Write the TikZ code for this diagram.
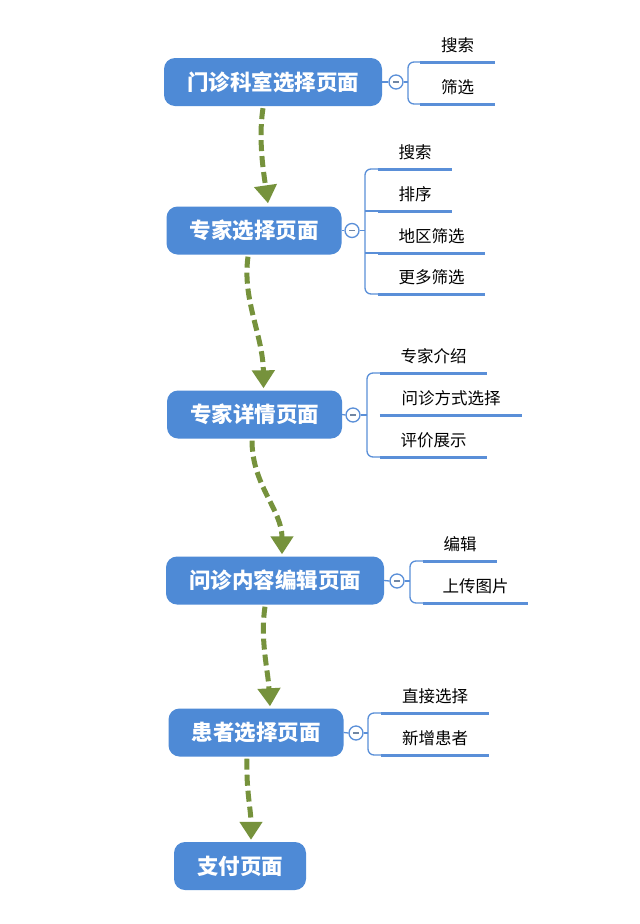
\documentclass[tikz,border=0pt]{standalone}
\usepackage{fontspec}
\setmainfont{Noto Sans CJK SC}
\usetikzlibrary{arrows.meta}
\definecolor{boxblue}{HTML}{4E8AD6}
\definecolor{lineblue}{HTML}{5A8FD8}
\definecolor{arrgreen}{HTML}{76923C}
\tikzset{
 page/.style={fill=boxblue, rounded corners=11pt, text=white, font=\bfseries\fontsize{21.5}{24}\selectfont, minimum height=48pt, inner xsep=23pt, inner ysep=0pt},
 fold/.style={circle, draw=lineblue, fill=white, line width=1.3pt, minimum size=14pt, inner sep=0pt,
   path picture={\draw[gray!60!lineblue, line width=1.4pt] ([xshift=-3pt]path picture bounding box.center) -- ([xshift=3pt]path picture bounding box.center);}},
 item/.style={font=\fontsize{16.5}{19}\selectfont, minimum height=33pt, inner sep=0pt, anchor=south},
 uline/.style={draw=lineblue, line width=3pt},
 brk/.style={draw=lineblue, line width=1.3pt, rounded corners=6pt},
 flow/.style={draw=arrgreen, line width=5pt, dash pattern=on 11pt off 5pt, -{Triangle[length=18pt,width=22pt]}},
}
\begin{document}
\begin{tikzpicture}[x=1pt,y=-1pt]
\useasboundingbox[fill=white] (0,0) rectangle (640,924);

% main pages
\node[page] (p1) at (273,82) {门诊科室选择页面};
\node[page] (p2) at (254,230.5) {专家选择页面};
\node[page] (p3) at (254.5,414.5) {专家详情页面};
\node[page] (p4) at (275,580.5) {问诊内容编辑页面};
\node[page] (p5) at (256,732.5) {患者选择页面};
\node[page] (p6) at (240,866) {支付页面};

% fold circles
\node[fold] (f1) at (396,82) {};
\node[fold] (f2) at (352,230.5) {};
\node[fold] (f3) at (353,415) {};
\node[fold] (f4) at (397,581) {};
\node[fold] (f5) at (356,733) {};

% items
\node[item, minimum width=75pt] (p1a) at (457.5,62) {搜索};
\node[item, minimum width=75pt] (p1b) at (457.5,104) {筛选};

\node[item, minimum width=74pt] (p2a) at (415,169) {搜索};
\node[item, minimum width=74pt] (p2b) at (415,211) {排序};
\node[item, minimum width=107pt] (p2c) at (431.5,253) {地区筛选};
\node[item, minimum width=107pt] (p2d) at (431.5,294) {更多筛选};

\node[item, minimum width=107pt] (p3a) at (433.5,373) {专家介绍};
\node[item, minimum width=142pt] (p3b) at (451,415) {问诊方式选择};
\node[item, minimum width=107pt] (p3c) at (433.5,457) {评价展示};

\node[item, minimum width=74pt] (p4a) at (460,561) {编辑};
\node[item, minimum width=105pt] (p4b) at (475.5,603) {上传图片};

\node[item, minimum width=108pt] (p5a) at (435,713) {直接选择};
\node[item, minimum width=108pt] (p5b) at (435,755) {新增患者};

% underlines
\foreach \n in {p1a,p1b,p2a,p2b,p2c,p2d,p3a,p3b,p3c,p4a,p4b,p5a,p5b}
  \draw[uline] (\n.south west) -- (\n.south east);

% brackets
\coordinate (k1) at (408,82);
\coordinate (k2) at (365,230.5);
\coordinate (k3) at (367,415);
\coordinate (k4) at (410,581);
\coordinate (k5) at (368,733);

\draw[brk] (p1.east) -- (f1.west);
\draw[brk] (f1.east) -- (k1);
\draw[brk] (p1a.south west) -| (k1) |- (p1b.south west);

\draw[brk] (p2.east) -- (f2.west);
\draw[brk] (f2.east) -- (k2);
\draw[brk] (p2a.south west) -| (k2) |- (p2d.south west);
\draw[brk] (k2 |- p2b.south) -- (p2b.south west);
\draw[brk] (k2 |- p2c.south) -- (p2c.south west);

\draw[brk] (p3.east) -- (f3.west);
\draw[brk] (f3.east) -- (k3);
\draw[brk] (p3a.south west) -| (k3) |- (p3c.south west);

\draw[brk] (p4.east) -- (f4.west);
\draw[brk] (f4.east) -- (k4);
\draw[brk] (p4a.south west) -| (k4) |- (p4b.south west);

\draw[brk] (p5.east) -- (f5.west);
\draw[brk] (f5.east) -- (k5);
\draw[brk] (p5a.south west) -| (k5) |- (p5b.south west);

% flow arrows
\draw[flow] ([xshift=-10pt,yshift=-2pt]p1.south) .. controls (258,140) and (264,175) .. ([xshift=14pt,yshift=3pt]p2.north);
\draw[flow] ([xshift=-6pt,yshift=-2pt]p2.south) .. controls (242,300) and (263,335) .. ([xshift=9pt,yshift=2pt]p3.north);
\draw[flow] ([xshift=-2.5pt,yshift=-2pt]p3.south) .. controls (252,485) and (282,510) .. ([xshift=7pt,yshift=2pt]p4.north);
\draw[flow] ([xshift=-10pt,yshift=-2pt]p4.south) .. controls (260,640) and (268,670) .. ([xshift=14pt,yshift=2pt]p5.north);
\draw[flow] ([xshift=-9pt,yshift=-2pt]p5.south) .. controls (246,790) and (251,810) .. ([xshift=11pt,yshift=2pt]p6.north);
\end{tikzpicture}
\end{document}
